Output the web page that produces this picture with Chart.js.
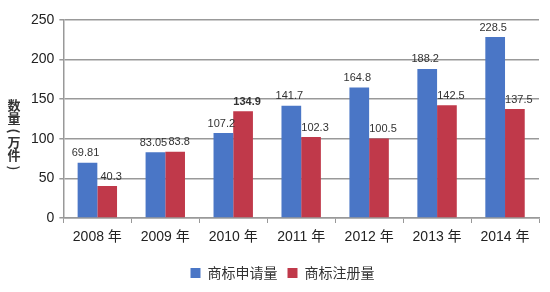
<!DOCTYPE html>
<html>
<head>
<meta charset="utf-8">
<script src="https://cdn.jsdelivr.net/npm/chart.js@4"></script>
<style>
  html, body { margin: 0; padding: 0; background: #fff; }
  #wrap { width: 550px; height: 292px; }
</style>
</head>
<body>
<div id="wrap"><canvas id="tm-chart" width="550" height="292"></canvas></div>
<script>
// 商标申请量 / 注册量 (万件)
var years = ['2008 年', '2009 年', '2010 年', '2011 年', '2012 年', '2013 年', '2014 年'];
var applyData = [69.81, 83.05, 107.2, 141.7, 164.8, 188.2, 228.5];
var registerData = [40.3, 83.8, 134.9, 102.3, 100.5, 142.5, 137.5];
var yTicks = [0, 50, 100, 150, 200, 250];
var yTitle = ['数', '量', '(', '万', '件', ')'];

var FONT = '"Liberation Sans", "Noto Sans CJK SC", sans-serif';
var CJK = '"Noto Sans CJK SC", sans-serif';

// value labels above each bar
var barLabels = {
    id: 'barLabels',
    afterDatasetsDraw: function (chart) {
        var c = chart.ctx;
        c.save();
        c.fillStyle = '#333';
        c.textAlign = 'center';
        c.textBaseline = 'bottom';
        chart.data.datasets.forEach(function (ds, i) {
            var meta = chart.getDatasetMeta(i);
            meta.data.forEach(function (bar, j) {
                var bold = (i == 1 && j == 2);
                c.font = (bold ? 'bold ' : '') + '11px ' + FONT;
                var dx = i == 1 ? 4 : -2;
                c.fillText(String(ds.data[j]), bar.x + dx, bar.y - 4);
            });
        });
        c.restore();
    }
};

// vertical stacked y axis title
var yAxisTitle = {
    id: 'yAxisTitle',
    afterDraw: function (chart) {
        var c = chart.ctx;
        c.save();
        c.fillStyle = '#333';
        c.font = 'bold 13px ' + CJK;
        c.textAlign = 'center';
        c.textBaseline = 'middle';
        var y = 105;
        yTitle.forEach(function (ch) {
            if (ch == '(' || ch == ')') {
                c.save();
                c.translate(14, y);
                c.rotate(Math.PI / 2);
                c.fillText(ch, 0, 0);
                c.restore();
                y += 11;
            } else {
                c.fillText(ch, 14, y);
                y += 13;
            }
        });
        c.restore();
    }
};

var ctx = document.getElementById('tm-chart').getContext('2d');
var chart = new Chart(ctx, {
    type: 'bar',
    data: {
        labels: years,
        datasets: [{
            label: '商标申请量',
            data: applyData,
            backgroundColor: '#4a76c6',
            categoryPercentage: 0.58,
            barPercentage: 1.0
        }, {
            label: '商标注册量',
            data: registerData,
            backgroundColor: '#c0394a',
            categoryPercentage: 0.58,
            barPercentage: 1.0
        }]
    },
    options: {
        responsive: false,
        animation: false,
        layout: {
            padding: { left: 26, right: 11, top: 20, bottom: 2 }
        },
        plugins: {
            legend: {
                position: 'bottom',
                labels: {
                    boxWidth: 10,
                    boxHeight: 10,
                    padding: 10,
                    color: '#333',
                    font: { family: CJK, size: 14 }
                }
            },
            tooltip: { enabled: false }
        },
        scales: {
            x: {
                afterFit: function (axis) { axis.height = 38; },
                grid: {
                    display: true,
                    drawOnChartArea: false,
                    drawTicks: true,
                    tickLength: 5,
                    color: '#999',
                    offset: true
                },
                border: { display: true, color: '#999', width: 1.5 },
                ticks: {
                    color: '#222',
                    padding: 6,
                    font: { family: FONT, size: 14 }
                }
            },
            y: {
                min: 0,
                max: 250,
                afterBuildTicks: function (axis) {
                    axis.ticks = yTicks.map(function (v) { return { value: v }; });
                },
                grid: {
                    color: '#999',
                    lineWidth: 1.5,
                    tickLength: 4
                },
                border: { display: true, color: '#999', width: 1.5 },
                ticks: {
                    color: '#222',
                    padding: 5,
                    font: { family: FONT, size: 14 }
                }
            }
        }
    },
    plugins: [barLabels, yAxisTitle]
});
</script>
</body>
</html>
